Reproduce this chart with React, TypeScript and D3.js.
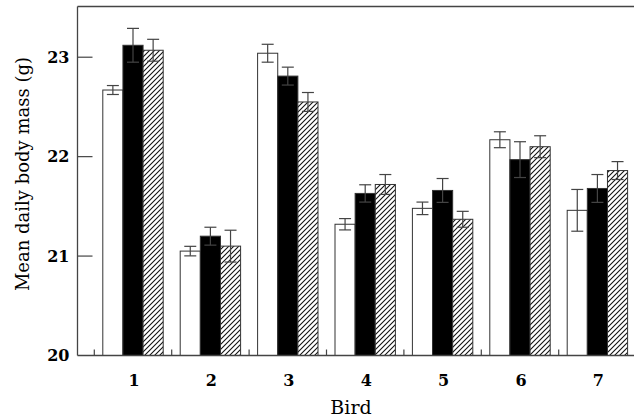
import React from 'react';
import * as d3 from 'd3';

const birds = ['1', '2', '3', '4', '5', '6', '7'];
const series = ['open', 'filled', 'hatched'];

// mean daily body mass (g), one array per treatment
const openMeans = [22.67, 21.05, 23.04, 21.32, 21.48, 22.17, 21.46];
const filledMeans = [23.12, 21.2, 22.81, 21.63, 21.66, 21.97, 21.68];
const hatchedMeans = [23.07, 21.1, 22.55, 21.72, 21.37, 22.1, 21.86];

const openErr = [0.045, 0.048, 0.09, 0.057, 0.063, 0.08, 0.21];
const filledErr = [0.17, 0.09, 0.09, 0.087, 0.12, 0.18, 0.14];
const hatchedErr = [0.11, 0.16, 0.095, 0.1, 0.08, 0.11, 0.09];

const yTicks = [20, 21, 22, 23];

const W = 634;
const H = 419;

const xScale = d3.scaleBand().domain(birds).range([94.3, 94.3 + 7 * 77.4]);
const yScale = d3.scaleLinear().domain([20, 23.51]).range([355.5, 6.5]);
const inner = d3.scaleBand().domain(series).range([0, 60.4]);

const means = [openMeans, filledMeans, hatchedMeans];
const errs = [openErr, filledErr, hatchedErr];
const fills = ['#fff', '#000', 'url(#hatch)'];

export default function App() {
  const axisX = 77.5;
  const off = (xScale.bandwidth() - 60.4) / 2;
  return (
    <div style={{ position: 'fixed', left: 0, top: 0 }}>
      <svg width={W} height={H} style={{ display: 'block', background: '#fff' }}>
        <defs>
          <pattern id="hatch" patternUnits="userSpaceOnUse" width={5} height={5}>
            <rect width={5} height={5} fill="#fff" />
            <path d="M-1,1 l2,-2 M0,5 l5,-5 M4,6 l2,-2" stroke="#111" strokeWidth={1.1} />
          </pattern>
        </defs>

        {/* bars */}
        {series.map((s, si) =>
          birds.map((b, i) => {
            const x = xScale(b)! + off + inner(s)!;
            const y = yScale(means[si][i]);
            return (
              <rect key={s + b} x={x} y={y} width={inner.bandwidth()} height={yScale(20) - y}
                fill={fills[si]} stroke="#333" strokeWidth={1} />
            );
          })
        )}

        {/* error bars */}
        {series.map((s, si) =>
          birds.map((b, i) => {
            const cx = xScale(b)! + off + inner(s)! + inner.bandwidth() / 2;
            const y1 = yScale(means[si][i] + errs[si][i]);
            const y2 = yScale(means[si][i] - errs[si][i]);
            return (
              <g key={'e' + s + b} stroke="#444" strokeWidth={1.2}>
                <line x1={cx} x2={cx} y1={y1} y2={y2} />
                <line x1={cx - 6} x2={cx + 6} y1={y1} y2={y1} />
                <line x1={cx - 6} x2={cx + 6} y1={y2} y2={y2} />
              </g>
            );
          })
        )}

        {/* frame */}
        <g stroke="#444" strokeWidth={1.3} fill="none">
          <line x1={axisX} x2={W} y1={yScale(23.51)} y2={yScale(23.51)} />
          <line x1={axisX} x2={axisX} y1={yScale(23.51)} y2={yScale(20)} />
          <line x1={axisX} x2={W} y1={yScale(20)} y2={yScale(20)} />
        </g>

        {/* y ticks */}
        {yTicks.map((t) => (
          <g key={t}>
            {t > 20 && <line x1={axisX} x2={axisX + 15} y1={yScale(t)} y2={yScale(t)} stroke="#444" strokeWidth={1.2} />}
            <text x={69.5} y={yScale(t)} dy="0.36em" textAnchor="end"
              fontFamily="DejaVu Serif" fontWeight="bold" fontSize={16} fill="#000">{t}</text>
          </g>
        ))}

        {/* x ticks: group boundaries */}
        {birds.map((b) => (
          <line key={'t' + b} x1={xScale(b)!} x2={xScale(b)!} y1={yScale(20)} y2={yScale(20) - 6}
            stroke="#444" strokeWidth={1.2} />
        ))}
        {birds.map((b) => (
          <text key={'l' + b} x={xScale(b)! + xScale.bandwidth() / 2 + 1} y={386} textAnchor="middle"
            fontFamily="DejaVu Serif" fontWeight="bold" fontSize={16} fill="#000">{b}</text>
        ))}

        <text x={351} y={414} textAnchor="middle" fontFamily="DejaVu Serif" fontSize={19} fill="#000">Bird</text>
        <text transform="translate(29,174) rotate(-90)" textAnchor="middle"
          fontFamily="DejaVu Serif" fontSize={18} fill="#000">Mean daily body mass (g)</text>
      </svg>
    </div>
  );
}
